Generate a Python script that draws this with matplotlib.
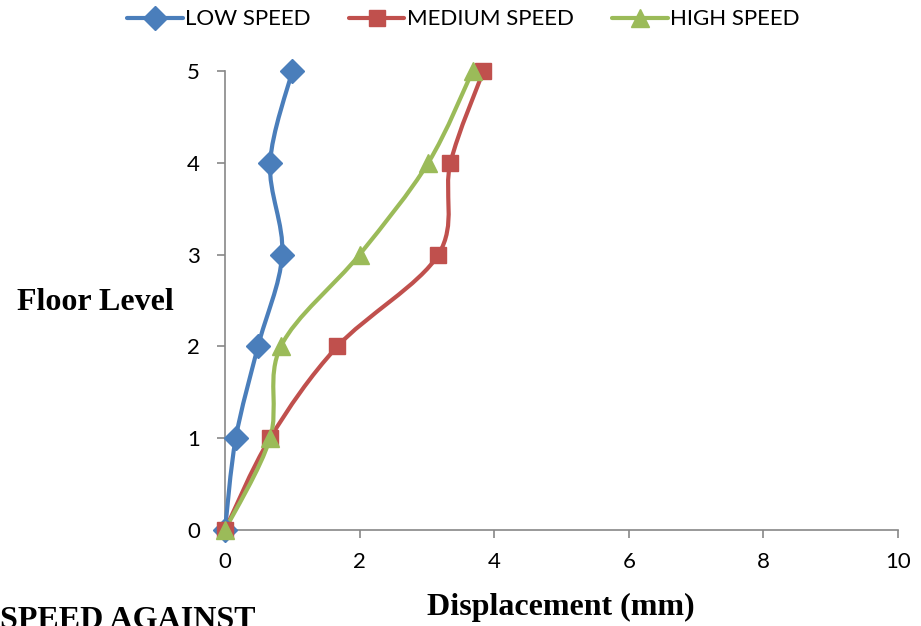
import matplotlib
matplotlib.use("Agg")
import matplotlib.pyplot as plt
from matplotlib.path import Path
from matplotlib.patches import PathPatch
from matplotlib.lines import Line2D

# floor levels and lateral displacement (mm) for each speed
floors = [0, 1, 2, 3, 4, 5]
low_speed = [0.0, 0.16, 0.49, 0.85, 0.67, 1.0]
medium_speed = [0.0, 0.67, 1.67, 3.17, 3.35, 3.84]
high_speed = [0.0, 0.67, 0.83, 2.0, 3.02, 3.68]

series = [
    ("LOW SPEED", low_speed, "#4A7EBB", "D", 12),
    ("MEDIUM SPEED", medium_speed, "#C0504D", "s", 12),
    ("HIGH SPEED", high_speed, "#9BBB59", "^", 13),
]

sans = ["Lato", "DejaVu Sans"]
serif = ["Liberation Serif", "DejaVu Serif"]


def smooth_path(xs, ys):
    # bezier segments through every point, like a spreadsheet "smoothed line"
    pts = list(zip(xs, ys))
    n = len(pts)
    verts = [pts[0]]
    codes = [Path.MOVETO]
    for i in range(n - 1):
        p0 = pts[max(i - 1, 0)]
        p1 = pts[i]
        p2 = pts[i + 1]
        p3 = pts[min(i + 2, n - 1)]
        c1 = (p1[0] + (p2[0] - p0[0]) / 6, p1[1] + (p2[1] - p0[1]) / 6)
        c2 = (p2[0] - (p3[0] - p1[0]) / 6, p2[1] - (p3[1] - p1[1]) / 6)
        verts += [c1, c2, p2]
        codes += [Path.CURVE4] * 3
    return Path(verts, codes)


fig = plt.figure(figsize=(9.21, 6.26), dpi=100)
ax = fig.add_axes([0.2443, 0.1534, 0.7307, 0.7332])

handles = []
for name, vals, color, marker, ms in series:
    ax.add_patch(PathPatch(smooth_path(vals, floors), facecolor="none",
                           edgecolor=color, lw=3.0, capstyle="round",
                           joinstyle="round", clip_on=False, zorder=3))
    ax.plot(vals, floors, linestyle="none", marker=marker, ms=ms,
            color=color, mec=color, clip_on=False, zorder=4)
    handles.append(Line2D([], [], color=color, lw=3.0, marker=marker,
                          ms=ms, mec=color, solid_capstyle="round"))

ax.set_xlim(0, 10)
ax.set_ylim(0, 5)
ax.set_xticks(range(0, 11, 2))
ax.set_yticks(range(0, 6))

for side in ("top", "right"):
    ax.spines[side].set_visible(False)
for side in ("left", "bottom"):
    ax.spines[side].set_color("#878787")
    ax.spines[side].set_linewidth(1.2)
ax.tick_params(axis="both", direction="out", length=6, width=1.2,
               color="#878787", labelsize=16)
ax.tick_params(axis="y", pad=12)
ax.tick_params(axis="x", pad=10)
for lab in ax.get_xticklabels() + ax.get_yticklabels():
    lab.set_family(sans)

fig.text(0.104, 0.517, "Floor Level", family=serif, fontweight="bold",
         fontsize=23, ha="center", va="center")
fig.text(0.609, 0.03, "Displacement (mm)", family=serif, fontweight="bold",
         fontsize=23, ha="center", va="center")
fig.text(0.0, -0.015, "SPEED AGAINST", family=serif, fontweight="bold",
         fontsize=23, ha="left", va="bottom")

fig.legend(handles, [s[0] for s in series], loc="upper center",
           bbox_to_anchor=(0.5033, 1.017), ncol=3, frameon=False,
           prop={"family": sans, "size": 16}, handlelength=2.5,
           handletextpad=0.13, columnspacing=1.7)

fig.savefig("out.png", dpi=100)
